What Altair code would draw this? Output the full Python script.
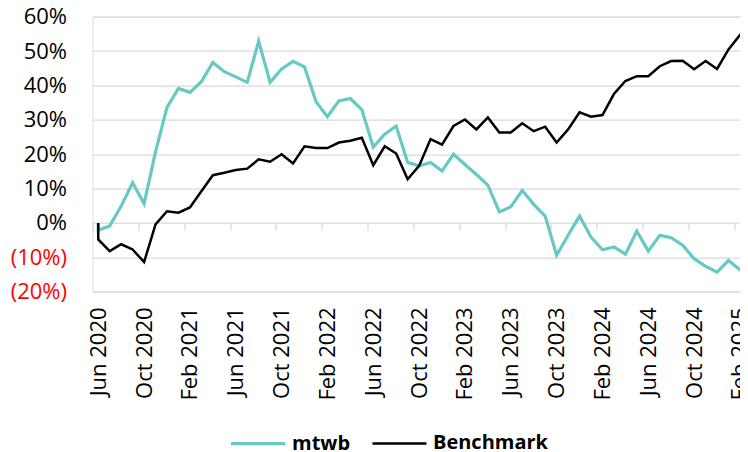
import altair as alt
import pandas as pd

# ---- data -------------------------------------------------------------
months = [d.strftime("%b %Y") for d in pd.date_range("2020-06-01", periods=58, freq="MS")]

series_names = ["mtwb", "Benchmark"]
series_colors = ["#66C9C6", "#000000"]
inception = [0.0, 0.0]  # both series start at 0 at inception (same month as Jun 2020)

mtwb = [-2.1, -0.9, 4.9, 11.7, 5.6, 20.7, 33.6, 39.1, 38.0, 41.1,
        46.7, 44.0, 42.5, 40.9, 52.9, 40.9, 44.8, 47.0, 45.4, 35.3,
        30.9, 35.5, 36.2, 33.0, 22.1, 25.8, 28.2, 17.6, 16.6, 17.6,
        15.1, 20.0, 17.0, 14.1, 11.0, 3.2, 4.7, 9.5, 5.4, 2.0,
        -9.4, -3.6, 2.0, -4.1, -7.8, -7.0, -9.1, -2.4, -8.2, -3.6,
        -4.3, -6.5, -10.4, -12.6, -14.3, -10.9, -13.6, -14.6]

benchmark = [-4.8, -8.2, -6.2, -7.7, -11.4, -0.4, 3.4, 3.0, 4.5, 9.2,
             13.9, 14.6, 15.4, 15.8, 18.5, 17.8, 20.0, 17.3, 22.3, 21.8,
             21.8, 23.4, 23.9, 24.8, 16.8, 22.3, 20.2, 12.7, 16.6, 24.4,
             22.8, 28.2, 30.1, 27.2, 30.7, 26.3, 26.3, 29.0, 26.7, 28.0,
             23.4, 27.2, 32.2, 30.9, 31.4, 37.5, 41.3, 42.7, 42.7, 45.6,
             47.1, 47.2, 44.7, 47.1, 44.8, 50.5, 54.7, 52.3]

y_ticks = [-0.2, -0.1, 0.0, 0.1, 0.2, 0.3, 0.4, 0.5, 0.6]

rows = []
for name, start, vals in zip(series_names, inception, [mtwb, benchmark]):
    rows.append({"series": name, "idx": 0, "seq": 0, "value": start / 100})
    for i, v in enumerate(vals):
        rows.append({"series": name, "idx": i, "seq": i + 1, "value": v / 100})
df = pd.DataFrame(rows)

# ---- layout -----------------------------------------------------------
BAND = 11.46
LEFT = 84.5
W = 732 - LEFT
H = 275
FONT = "Open Sans"
GRID = "#D9D9D9"
xmax = W / BAND - 0.5

label_js = "[" + ",".join("'" + m + "'" for m in months) + "]"

x_axis = alt.Axis(
    values=list(range(0, len(months), 4)),
    labelExpr=label_js + "[datum.value]",
    labelAngle=-90,
    labelFont=FONT,
    labelFontSize=22,
    labelColor="#000000",
    labelFlush=False,
    labelOverlap=False,
    tickOffset=-BAND / 2,
    labelOffset=BAND / 2,
    tickSize=7,
    tickColor=GRID,
    tickWidth=1.3,
    domain=False,
    grid=False,
    offset=-H * 0.25,
    labelPadding=77,
    title=None,
)

y_axis = alt.Axis(
    values=y_ticks,
    labelExpr="datum.value < -0.001 ? '(' + format(-datum.value, '.0%') + ')' : format(datum.value, '.0%')",
    labelColor={"expr": "datum.value < -0.001 ? '#FF0000' : '#000000'"},
    labelFont=FONT,
    labelFontSize=22,
    labelPadding=26,
    ticks=False,
    domain=False,
    grid=True,
    gridColor=GRID,
    gridWidth=1.3,
    title=None,
)

chart = alt.Chart(df).mark_line(clip=True, strokeJoin="miter", strokeCap="butt").encode(
    x=alt.X("idx:Q", scale=alt.Scale(domain=[-0.5, xmax], nice=False, zero=False), axis=x_axis),
    y=alt.Y("value:Q", scale=alt.Scale(domain=[-0.2, 0.6], nice=False, zero=False), axis=y_axis),
    color=alt.Color(
        "series:N",
        scale=alt.Scale(domain=series_names, range=series_colors),
        legend=alt.Legend(
            orient="none",
            legendX=136.5,
            legendY=398,
            direction="horizontal",
            title=None,
            symbolType="stroke",
            symbolSize=2916,
            symbolStrokeWidth=3,
            labelFont=FONT,
            labelFontSize=20,
            labelFontWeight="bold",
            labelColor="#000000",
            labelOffset=5,
            columnPadding=16,
            padding=0,
        ),
    ),
    strokeWidth=alt.StrokeWidth(
        "series:N", scale=alt.Scale(domain=series_names, range=[3.2, 2.5]), legend=None
    ),
    order=alt.Order("seq:Q"),
    detail="series:N",
).properties(
    width=W,
    height=H,
    autosize=alt.AutoSizeParams(type="none"),
    padding={"left": LEFT, "top": 8.7, "right": 0, "bottom": 158},
).configure_view(stroke=None).configure(background="#FFFFFF")

chart.save("out.html", embed_options={"renderer": "svg", "actions": False})
